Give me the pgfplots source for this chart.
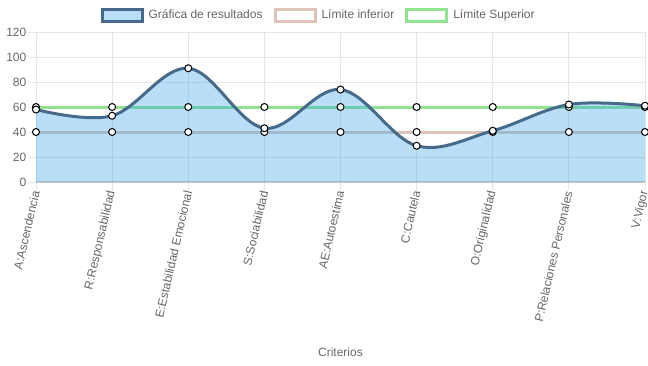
\documentclass[border=0pt]{standalone}
\usepackage{pgfplots}
\pgfplotsset{compat=1.18}
\usepackage{fontspec}
\setmainfont{Liberation Sans}
\definecolor{fillblue}{RGB}{54,162,235}
\definecolor{linedark}{RGB}{70,106,138}
\definecolor{lgreen}{RGB}{144,226,144}
\definecolor{rose}{RGB}{222,196,186}
\definecolor{txt}{RGB}{102,102,102}
\definecolor{gridc}{RGB}{229,229,229}
\definecolor{zeroc}{RGB}{204,204,204}
\pgfplotstableread{
x y
0 58
1 53
2 91
3 43
4 74
5 29
6 41
7 62
8 61
}\resdata
\pgfplotstableread{
x y
0 40
1 40
2 40
3 40
4 40
5 40
6 40
7 40
8 40
}\lowdata
\pgfplotstableread{
x y
0 60
1 60
2 60
3 60
4 60
5 60
6 60
7 60
8 60
}\updata
\begin{document}
\begin{tikzpicture}[x=1pt,y=1pt]
\path[use as bounding box] (0,0) rectangle (648,365);
\begin{axis}[
  at={(36pt,183pt)}, anchor=south west,
  scale only axis, width=609pt, height=150pt,
  xmin=0, xmax=8, ymin=0, ymax=120,
  clip=false,
  /pgf/number format/assume math mode=true,
  xtick={0,...,8},
  xticklabels={A:Ascendencia,R:Responsabilidad,E:Estabilidad Emocional,S:Sociabilidad,AE:Autoestima,C:Cautela,O:Originalidad,P:Relaciones Personales,V:Vigor},
  ytick={0,20,...,120},
  tick pos=left,
  grid=major, grid style={gridc, line width=1pt},
  axis line style={gridc, line width=1pt},
  tick style={gridc, line width=1pt},
  tick align=outside, major tick length=8pt,
  tick label style={font=\fontsize{12}{14}\selectfont, text=txt},
  xticklabel style={rotate=77, anchor=east, inner sep=1pt},
  yticklabel style={inner sep=1.5pt},
  extra y ticks={0}, extra y tick labels={},
  extra y tick style={grid style={zeroc, line width=1.6pt}, tick style={gridc}},
  xlabel={Criterios},
  xlabel style={at={(axis description cs:0.5,-1.133)}, anchor=center, font=\fontsize{12}{14}\selectfont, text=txt},
  legend style={at={(axis description cs:0.464,1.113)}, anchor=center, draw=none, fill=none,
    font=\fontsize{12}{14}\selectfont, text=txt, legend columns=3,
    /tikz/every odd column/.append style={column sep=3pt},
    /tikz/every even column/.append style={column sep=9pt}},
  legend cell align=left,
]
\addlegendimage{legend image code/.code={\draw[line width=3pt, draw=linedark, fill=fillblue!35] (0pt,-6pt) rectangle (40pt,6pt);}}
\addlegendentry{Gráfica de resultados}
\addlegendimage{legend image code/.code={\draw[line width=3pt, draw=rose, fill=white] (0pt,-6pt) rectangle (40pt,6pt);}}
\addlegendentry{Límite inferior}
\addlegendimage{legend image code/.code={\draw[line width=3pt, draw=lgreen, fill=white] (0pt,-6pt) rectangle (40pt,6pt);}}
\addlegendentry{Límite Superior}

\addplot[forget plot, rose, line width=3pt, mark=*, mark size=3.5pt, mark options={fill=white, draw=black, line width=1pt}] table[x=x,y=y] {\lowdata};
\addplot[forget plot, lgreen, line width=3pt, mark=*, mark size=3.5pt, mark options={fill=white, draw=black, line width=1pt}] table[x=x,y=y] {\updata};
\addplot[forget plot, smooth, tension=0.6, draw=none, fill=fillblue, fill opacity=0.35] table[x=x,y=y] {\resdata} \closedcycle;
\addplot[forget plot, smooth, tension=0.6, linedark, line width=3pt, mark=*, mark size=3.5pt, mark options={fill=white, draw=black, line width=1pt}] table[x=x,y=y] {\resdata};
\end{axis}
\end{tikzpicture}
\end{document}
